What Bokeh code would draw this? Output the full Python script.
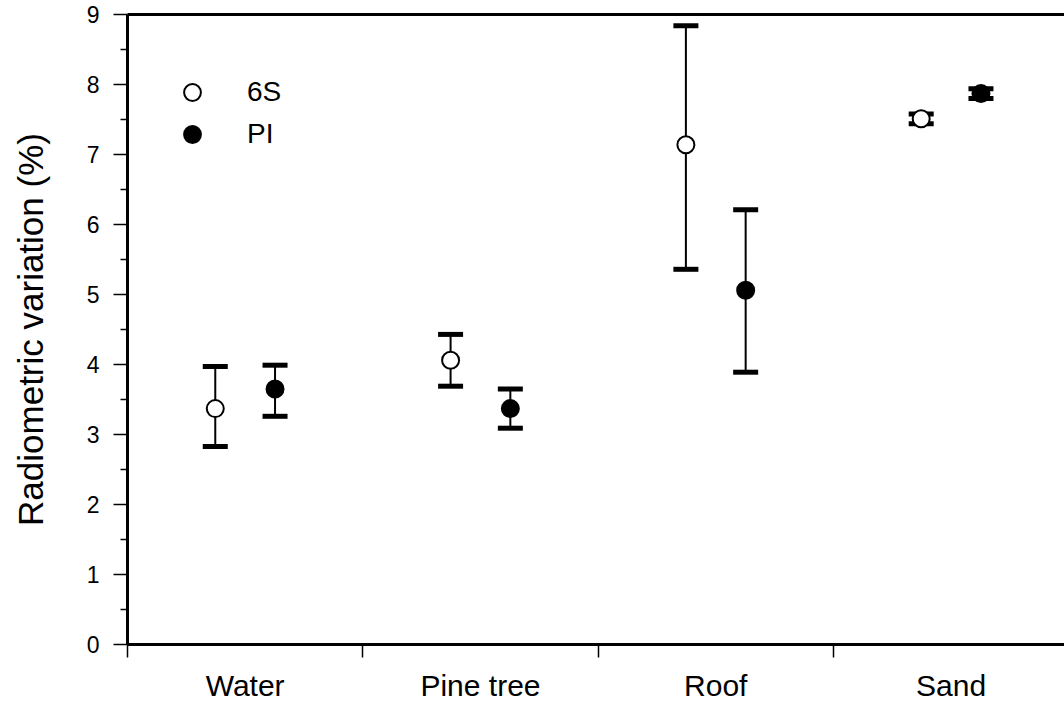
from bokeh.plotting import figure
from bokeh.models import (ColumnDataSource, Whisker, TeeHead, FixedTicker, LinearAxis,
                          Range1d, Legend, LegendItem)
from bokeh.embed import file_html
from bokeh.resources import INLINE

categories = ["Water", "Pine tree", "Roof", "Sand"]
s6_mean = [3.37, 4.06, 7.14, 7.51]
s6_upper = [3.97, 4.43, 8.84, 7.58]
s6_lower = [2.83, 3.69, 5.36, 7.44]
pi_mean = [3.65, 3.37, 5.06, 7.87]
pi_upper = [3.99, 3.65, 6.21, 7.94]
pi_lower = [3.26, 3.09, 3.89, 7.80]
y_ticks = [0, 1, 2, 3, 4, 5, 6, 7, 8, 9]

FONT = "Liberation Sans"
offset = 0.127
centers = [i + 0.5 for i in range(len(categories))]

p = figure(width=1064, height=709, output_backend="svg", toolbar_location=None,
           x_range=Range1d(0, 3.982), y_range=Range1d(0, 9),
           min_border_left=127, min_border_right=0, min_border_top=14, min_border_bottom=65)
p.grid.visible = False
p.outline_line_color = None
p.background_fill_color = "white"
p.border_fill_color = "white"

# axes
xa = p.xaxis[0]
xa.ticker = FixedTicker(ticks=centers, minor_ticks=list(range(len(categories) + 1)))
xa.major_label_overrides = {c: n for c, n in zip(centers, categories)}
xa.major_tick_out = 0
xa.major_tick_in = 0
xa.minor_tick_out = 13
xa.minor_tick_in = 0
xa.minor_tick_line_width = 1.5
xa.minor_tick_line_color = "black"
xa.axis_line_width = 3
xa.axis_line_color = "black"
xa.major_label_text_font = FONT
xa.major_label_text_font_size = "30px"
xa.major_label_text_color = "black"
xa.major_label_standoff = 11

ya = p.yaxis[0]
ya.ticker = FixedTicker(ticks=y_ticks, minor_ticks=[v + 0.5 for v in y_ticks[:-1]])
ya.major_tick_out = 14
ya.major_tick_in = 0
ya.minor_tick_out = 7
ya.minor_tick_in = 0
ya.major_tick_line_width = 1.5
ya.minor_tick_line_width = 1.5
ya.axis_line_width = 3
ya.major_label_text_font = FONT
ya.major_label_text_font_size = "23px"
ya.major_label_text_color = "black"
ya.major_label_standoff = 14
ya.axis_label = "Radiometric variation (%)"
ya.axis_label_text_font = FONT
ya.axis_label_text_font_size = "35px"
ya.axis_label_text_font_style = "normal"
ya.axis_label_text_color = "black"
ya.axis_label_standoff = 34

top = LinearAxis(ticker=FixedTicker(ticks=[]), axis_line_width=3, axis_line_color="black",
                 major_tick_out=0, major_tick_in=0, minor_tick_out=0, minor_tick_in=0,
                 major_label_standoff=0)
p.add_layout(top, "above")

src6 = ColumnDataSource(dict(x=[c - offset for c in centers], y=s6_mean, upper=s6_upper, lower=s6_lower))
srcp = ColumnDataSource(dict(x=[c + offset for c in centers], y=pi_mean, upper=pi_upper, lower=pi_lower))

for src in (src6, srcp):
    w = Whisker(source=src, base="x", upper="upper", lower="lower", dimension="height",
                line_width=2, line_color="black",
                upper_head=TeeHead(size=25, line_width=5, line_color="black"),
                lower_head=TeeHead(size=25, line_width=5, line_color="black"),
                level="underlay")
    p.add_layout(w)

r6 = p.scatter("x", "y", source=src6, size=17, marker="circle", fill_color="white",
               line_color="black", line_width=2)
rp = p.scatter("x", "y", source=srcp, size=17, marker="circle", fill_color="black",
               line_color="black", line_width=2)

legend = Legend(items=[LegendItem(label="6S", renderers=[r6]), LegendItem(label="PI", renderers=[rp])],
                location=(44, 489), orientation="vertical",
                glyph_width=42, glyph_height=42, label_height=42, spacing=0,
                label_standoff=34, padding=0, margin=0,
                label_text_font=FONT, label_text_font_size="28px", label_text_color="black",
                border_line_color=None, background_fill_alpha=0)
p.add_layout(legend)

open("out.html", "w").write(file_html(p, INLINE))
